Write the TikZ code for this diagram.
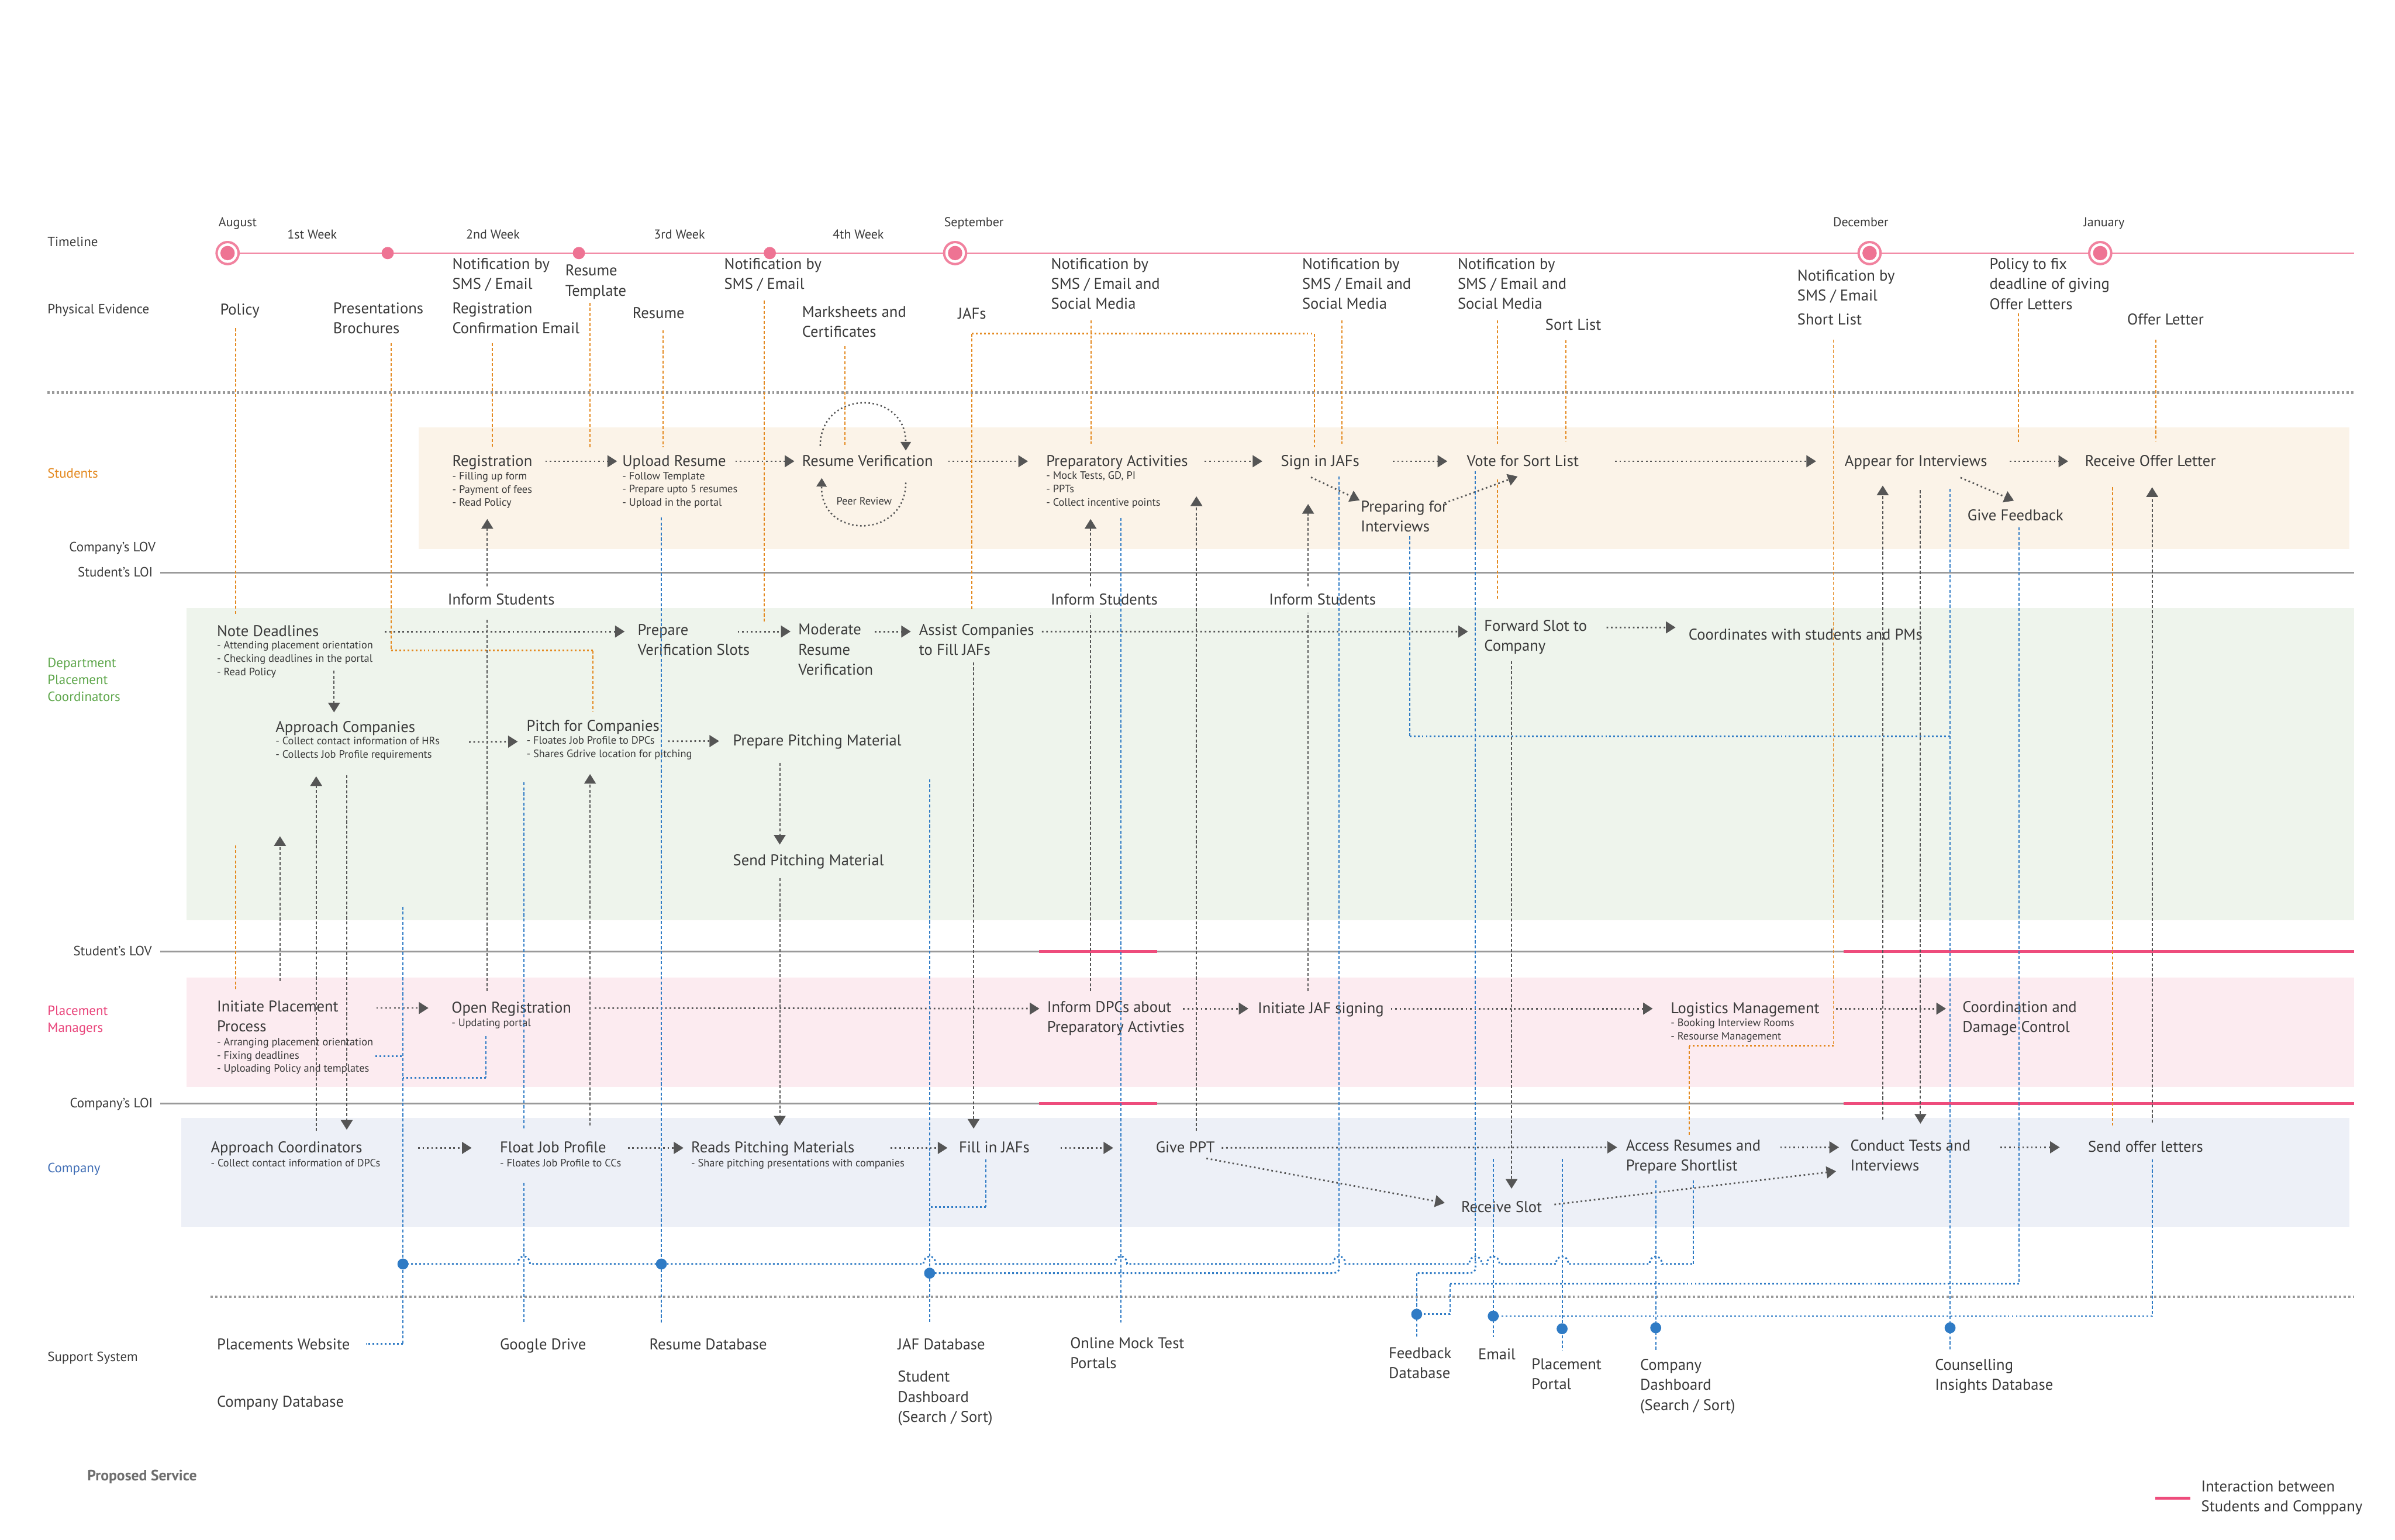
\documentclass[tikz,border=0pt]{standalone}
\usepackage{fontspec}
\setmainfont{PT Sans}
\usetikzlibrary{arrows.meta}

\definecolor{ink}{HTML}{3A3A3A}
\definecolor{arr}{HTML}{555555}
\definecolor{orn}{HTML}{E4891F}
\definecolor{blu}{HTML}{2F7BC5}
\definecolor{grn}{HTML}{5DA64A}
\definecolor{pnk}{HTML}{E9437A}
\definecolor{cmpblue}{HTML}{3F6DB5}
\definecolor{tpink}{HTML}{F1829F}
\definecolor{tdot}{HTML}{EE7393}
\definecolor{hipink}{HTML}{EE4C7C}
\definecolor{sepgray}{HTML}{9A9A9A}
\definecolor{bgstu}{HTML}{FBF3E8}
\definecolor{bgdpc}{HTML}{EEF4EC}
\definecolor{bgpm}{HTML}{FCEBF0}
\definecolor{bgcom}{HTML}{EDF0F7}
\definecolor{titlegray}{HTML}{6E6E6E}

\newcommand\mainf{\fontsize{14.5}{18.6}\selectfont}
\newcommand\subf{\fontsize{10}{12.4}\selectfont}
\newcommand\lanef{\fontsize{12.5}{15.9}\selectfont}
\newcommand\monf{\fontsize{12}{14.4}\selectfont}

\begin{document}
\begin{tikzpicture}[x=0.05cm, y=-0.05cm,
  lbl/.style={font=\mainf, text=ink, align=left, anchor=north west, inner sep=0pt, yshift=7.25pt, execute at begin node={\rule{0pt}{11.6pt}}},
  subl/.style={font=\subf, text=ink, align=left, anchor=north west, inner sep=0pt, yshift=5pt, execute at begin node={\rule{0pt}{8pt}}},
  lane/.style={font=\lanef, text=ink, align=left, anchor=north west, inner sep=0pt, yshift=6.25pt, execute at begin node={\rule{0pt}{10pt}}},
  laner/.style={lane, anchor=north east, align=right},
  mon/.style={font=\monf, text=ink, anchor=north west, inner sep=0pt, yshift=6pt, execute at begin node={\rule{0pt}{9.6pt}}},
  c1/.style={yshift=-7.25pt},
  c2/.style={yshift=-5pt},
  arrowhd/.style={-{Triangle[length=9pt,width=11pt]}},
  flow/.style={draw=arr, line width=1.5pt, dash pattern=on 1.5pt off 2.6pt, arrowhd, shorten <=9pt, shorten >=5pt},
  floop/.style={draw=arr, line width=1.4pt, dash pattern=on 1.4pt off 2.4pt, -{Triangle[length=8pt,width=9.5pt]}},
  vl/.style={draw=arr, line width=1.05pt, dash pattern=on 2.8pt off 1.9pt},
  vla/.style={vl, arrowhd},
  ol/.style={draw=orn, line width=1.05pt, dash pattern=on 2.8pt off 1.9pt},
  olh/.style={draw=orn, line width=1.6pt, dash pattern=on 1.6pt off 2.2pt},
  bl/.style={draw=blu, line width=1.05pt, dash pattern=on 2.8pt off 1.9pt},
  blh/.style={draw=blu, line width=1.6pt, dash pattern=on 1.6pt off 2.2pt},
  sepdot/.style={draw=sepgray, line width=2.4pt, dash pattern=on 2.1pt off 2.2pt},
  sepline/.style={draw=sepgray, line width=1.6pt},
  hilite/.style={draw=hipink, line width=2.6pt}]

\useasboundingbox[fill=white] (0,0) rectangle (1568,1008);

% lane backgrounds
\fill[bgstu] (274,280) rectangle (1538,359.5);
\fill[bgdpc] (122,398) rectangle (1541,602.5);
\fill[bgpm] (122,640) rectangle (1541,711.8);
\fill[bgcom] (118.5,732) rectangle (1538,803.7);

% separators and lines of interaction / visibility
\draw[sepdot] (31,257) -- (1541,257);
\draw[sepdot] (138,849) -- (1541,849);
\draw[sepline] (105,375) -- (1541,375);
\draw[sepline] (105,623) -- (1541,623);
\draw[sepline] (105,722.4) -- (1541,722.4);
\draw[hilite] (680.4,623) -- (757.6,623) (1207,623) -- (1541,623);
\draw[hilite] (680.4,722.4) -- (757.6,722.4) (1207,722.4) -- (1541,722.4);

% timeline
\draw[tpink, line width=1.4pt] (149,165.7) -- (1541,165.7);
\foreach \mx in {149,625.3,1224,1375}{
  \draw[tpink, line width=2.2pt, fill=white] (\mx,165.7) circle[radius=0.36cm];
  \fill[tdot] (\mx,165.7) circle[radius=0.235cm];
}
\foreach \mx in {253.8,379,504}
  \fill[tdot] (\mx,165.7) circle[radius=0.2cm];

% lane labels
\node[lane] (lTime) at (31,158.5) {Timeline};
\node[lane] (lPhys) at (31,202.5) {Physical Evidence};
\node[lane, text=orn] (lStu) at (31,310) {Students};
\node[laner] (lCLov) at (102,358.5) {Company’s LOV};
\node[laner] (lSLoi) at (100.2,375) {Student’s LOI};
\node[lane, text=grn] (lDpc) at (31,435) {Department\\Placement\\Coordinators};
\node[laner] (lSLov) at (99.5,623) {Student’s LOV};
\node[lane, text=pnk] (lPm) at (31,662.7) {Placement\\Managers};
\node[laner] (lCLoi) at (100.2,722.4) {Company’s LOI};
\node[lane, text=cmpblue] (lCom) at (31,764.8) {Company};
\node[lane] (lSup) at (31,888.4) {Support System};

% months and weeks
\node[mon] (mAug) at (143,145.8) {August};
\node[mon] (w1) at (188,153.6) {1st Week};
\node[mon] (w2) at (305,153.6) {2nd Week};
\node[mon] (w3) at (428,153.6) {3rd Week};
\node[mon] (w4) at (545,153.6) {4th Week};
\node[mon] (mSep) at (618,145.8) {September};
\node[mon] (mDec) at (1200,145.8) {December};
\node[mon] (mJan) at (1364,145.8) {January};

% physical evidence
\node[lbl] (pePolicy) at (144,203) {Policy};
\node[lbl] (peBroch) at (218,203) {Presentations\\Brochures};
\node[lbl] (peSms1) at (296,174) {Notification by\\SMS / Email};
\node[lbl] (peConf) at (296,203) {Registration\\Confirmation Email};
\node[lbl] (peTempl) at (370,178.4) {Resume\\Template};
\node[lbl] (peRes) at (414,205.4) {Resume};
\node[lbl] (peSms2) at (474,174) {Notification by\\SMS / Email};
\node[lbl] (peMarks) at (525,205.5) {Marksheets and\\Certificates};
\node[lbl] (peJaf) at (627,205.5) {JAFs};
\node[lbl] (peSms3) at (688,174) {Notification by\\SMS / Email and\\Social Media};
\node[lbl] (peSms4) at (852.4,174) {Notification by\\SMS / Email and\\Social Media};
\node[lbl] (peSms5) at (954.2,174) {Notification by\\SMS / Email and\\Social Media};
\node[lbl] (peSort) at (1011.6,212.9) {Sort List};
\node[lbl] (peSms6) at (1176.6,181.7) {Notification by\\SMS / Email};
\node[lbl] (peShort) at (1176.6,209.5) {Short List};
\node[lbl] (peFix) at (1302.4,174.1) {Policy to fix\\deadline of giving\\Offer Letters};
\node[lbl] (peOffer) at (1392.6,209.5) {Offer Letter};

% students
\node[lbl] (reg) at (296,302) {Registration};
\node[subl] (regs) at (296,312.4) {- Filling up form\\- Payment of fees\\- Read Policy};
\node[lbl] (upl) at (407.3,302) {Upload Resume};
\node[subl] (upls) at (407.3,312.4) {- Follow Template\\- Prepare upto 5 resumes\\- Upload in the portal};
\node[lbl] (rver) at (525,302) {Resume Verification};
\node[subl] (peer) at (547.5,328.2) {Peer Review};
\node[lbl] (prep) at (684.8,302) {Preparatory Activities};
\node[subl] (preps) at (684.8,312.2) {- Mock Tests, GD, PI\\- PPTs\\- Collect incentive points};
\node[lbl] (signjaf) at (838.4,302) {Sign in JAFs};
\node[lbl] (pfi) at (890.8,333) {Preparing for\\Interviews};
\node[lbl] (vote) at (960.2,302) {Vote for Sort List};
\node[lbl] (appear) at (1207.6,302) {Appear for Interviews};
\node[lbl] (recv) at (1364.9,302) {Receive Offer Letter};
\node[lbl] (fb) at (1288,337.6) {Give Feedback};

% department placement coordinators
\node[lbl] (inf1) at (293,392.8) {Inform Students};
\node[lbl] (inf2) at (687.8,392.8) {Inform Students};
\node[lbl] (inf3) at (830.7,392.8) {Inform Students};
\node[lbl] (notedl) at (141.9,413.5) {Note Deadlines};
\node[subl] (notes) at (141.9,423.2) {- Attending placement orientation\\- Checking deadlines in the portal\\- Read Policy};
\node[lbl] (pvs) at (417.4,413.5) {Prepare\\Verification Slots};
\node[lbl] (modres) at (522.5,413.5) {Moderate\\Resume\\Verification};
\node[lbl] (assist) at (601.6,413.5) {Assist Companies\\to Fill JAFs};
\node[lbl] (fwd) at (971.6,410.8) {Forward Slot to\\Company};
\node[lbl] (coord) at (1105.4,415.9) {Coordinates with students and PMs};
\node[lbl] (appc) at (180.3,476.3) {Approach Companies};
\node[subl] (appcs) at (180.3,486) {- Collect contact information of HRs\\- Collects Job Profile requirements};
\node[lbl] (pitch) at (344.6,475.6) {Pitch for Companies};
\node[subl] (pitchs) at (344.6,485.5) {- Floates Job Profile to DPCs\\- Shares Gdrive location for pitching};
\node[lbl] (ppm) at (479.8,485.2) {Prepare Pitching Material};
\node[lbl] (spm) at (479.8,563.7) {Send Pitching Material};

% placement managers
\node[lbl] (ipp) at (141.9,660) {Initiate Placement\\Process};
\node[subl] (ipps) at (141.9,683) {- Arranging placement orientation\\- Fixing deadlines\\- Uploading Policy and templates};
\node[lbl] (openr) at (295.5,660) {Open Registration};
\node[subl] (openrs) at (295.5,669.9) {- Updating portal};
\node[lbl] (idpc) at (685.4,660.4) {Inform DPCs about\\Preparatory Activties};
\node[lbl] (ijaf) at (823.3,660.4) {Initiate JAF signing};
\node[lbl] (logi) at (1093.7,660.4) {Logistics Management};
\node[subl] (logis) at (1093.7,670.4) {- Booking Interview Rooms\\- Resourse Management};
\node[lbl] (cdc) at (1284.7,660.4) {Coordination and\\Damage Control};

% company
\node[lbl] (appco) at (137.9,751.6) {Approach Coordinators};
\node[subl] (appcos) at (137.9,761.8) {- Collect contact information of DPCs};
\node[lbl] (floatjp) at (327.2,751.6) {Float Job Profile};
\node[subl] (floats) at (327.2,761.8) {- Floates Job Profile to CCs};
\node[lbl] (reads) at (452.4,751.6) {Reads Pitching Materials};
\node[subl] (readss) at (452.4,761.8) {- Share pitching presentations with companies};
\node[lbl] (filljaf) at (627.7,751.6) {Fill in JAFs};
\node[lbl] (ppt) at (756.6,751.6) {Give PPT};
\node[lbl] (access) at (1064.4,751.2) {Access Resumes and\\Prepare Shortlist};
\node[lbl] (cti) at (1211.3,751.2) {Conduct Tests and\\Interviews};
\node[lbl] (sol) at (1366.9,751.2) {Send offer letters};
\node[lbl] (rslot) at (956.5,790.4) {Receive Slot};

% support system
\node[lbl] (sWeb) at (141.9,880.6) {Placements Website};
\node[lbl] (sCdb) at (141.9,918) {Company Database};
\node[lbl] (sGd) at (327.2,880.6) {Google Drive};
\node[lbl] (sRdb) at (425,880.6) {Resume Database};
\node[lbl] (sJaf) at (587.6,880.6) {JAF Database};
\node[lbl] (sStud) at (587.6,902.6) {Student\\Dashboard\\(Search / Sort)};
\node[lbl] (sMock) at (700.5,880.6) {Online Mock Test\\Portals};
\node[lbl] (sFb) at (909.1,887.2) {Feedback\\Database};
\node[lbl] (sMail) at (967.6,887.2) {Email};
\node[lbl] (sPort) at (1002.6,894.3) {Placement\\Portal};
\node[lbl] (sCdash) at (1073.7,894.9) {Company\\Dashboard\\(Search / Sort)};
\node[lbl] (sCoun) at (1266.7,894.9) {Counselling\\Insights Database};

\node[font=\bfseries\fontsize{14}{16}\selectfont, text=titlegray, anchor=west, inner sep=0pt] (title) at (57,967) {Proposed Service};
\draw[hilite] (1411,980.8) -- (1434,980.8);
\node[lbl] (legend) at (1441,974.3) {Interaction between\\Students and Comppany};

% student flow
\draw[flow, shorten <=12pt, shorten >=4.7pt] ([c1]reg.north east) -- ([c1]upl.north west);
\draw[flow, shorten <=8.5pt, shorten >=7pt] ([c1]upl.north east) -- ([c1]rver.north west);
\draw[flow, shorten <=14pt, shorten >=16.8pt] ([c1]rver.north east) -- ([c1]prep.north west);
\draw[flow, shorten <=15.6pt, shorten >=17pt] ([c1]prep.north east) -- ([c1]signjaf.north west);
\draw[flow, shorten <=31pt, shorten >=18pt] ([c1]signjaf.north east) -- ([c1]vote.north west);
\draw[flow, shorten <=33.6pt, shorten >=26.5pt] ([c1]vote.north east) -- ([c1]appear.north west);
\draw[flow, shorten <=21pt, shorten >=15.5pt] ([c1]appear.north east) -- ([c1]recv.north west);
\draw[flow, shorten <=0pt, shorten >=1pt] ([shift={(-6,5)}]signjaf.south) -- (pfi.north west);
\draw[flow, shorten <=0pt, shorten >=0pt] ([shift={(-2,1.5)}]pfi.north east) -- ([shift={(-3.4,6.5)}]vote.south);
\draw[flow, shorten <=0pt, shorten >=0pt] ([shift={(-17.6,5.3)}]appear.south east) -- ([shift={(-1,-4.7)}]fb.north);
% peer review loop
\draw[floop] (537,292) .. controls (537,254.7) and (593,254.7) .. (593,295);
\draw[floop] (593,316) .. controls (593,353.3) and (537,353.3) .. (538,313);

% coordinator flow
\draw[flow, shorten <=156.6pt, shorten >=12pt] ([c1]notedl.north west) -- ([c1]pvs.north west);
\draw[flow, shorten <=93.3pt, shorten >=7pt] ([c1]pvs.north west) -- ([c1]modres.north west);
\draw[flow, shorten <=71.3pt, shorten >=7.5pt] ([c1]modres.north west) -- ([c1]assist.north west);
\draw[flow, shorten <=7pt, shorten >=15pt] ([c1]assist.north east) -- ([yshift=-11.1pt]fwd.north west);
\draw[flow, shorten <=18pt, shorten >=12pt] ([c1]fwd.north east) -- (coord.north west);
\draw[flow, shorten <=27pt, shorten >=8pt] ([c2]appcs.north east) -- ([c2]pitchs.north west);
\draw[flow, shorten <=132pt, shorten >=12.8pt] ([c2]pitchs.north west) -- ([c1]ppm.north west);

% manager flow
\draw[flow, shorten <=148.7pt, shorten >=21.3pt] ([c1]ipp.north west) -- ([c1]openr.north west);
\draw[flow, shorten <=21.8pt, shorten >=7pt] ([c1]openr.north east) -- ([c1]idpc.north west);
\draw[flow, shorten <=126.9pt, shorten >=8.5pt] ([c1]idpc.north west) -- ([c1]ijaf.north west);
\draw[flow, shorten <=6.3pt, shorten >=16.6pt] ([c1]ijaf.north east) -- ([c1]logi.north west);
\draw[flow, shorten <=15.2pt, shorten >=15.2pt] ([c1]logi.north east) -- ([c1]cdc.north west);

% company flow
\draw[flow, shorten <=193.3pt, shorten >=26.2pt] ([c1]appco.north west) -- ([c1]floatjp.north west);
\draw[flow, shorten <=20pt, shorten >=7pt] ([c1]floatjp.north east) -- ([c1]reads.north west);
\draw[flow, shorten <=33.3pt, shorten >=10.5pt] ([c1]reads.north east) -- ([c1]filljaf.north west);
\draw[flow, shorten <=28.6pt, shorten >=39.5pt] ([c1]filljaf.north east) -- ([c1]ppt.north west);
\draw[flow, shorten <=6.3pt, shorten >=8.1pt] ([c1]ppt.north east) -- ([c1]access.north west);
\draw[flow, shorten <=18pt, shorten >=10.4pt] ([c1]access.north east) -- ([c1]cti.north west);
\draw[flow, shorten <=27.5pt, shorten >=26.2pt] ([c1]cti.north east) -- ([c1]sol.north west);
\draw[flow, shorten <=0pt, shorten >=15.4pt] ([shift={(-5.6,3.4)}]ppt.south east) -- (rslot.west);
\draw[flow, shorten <=11.4pt, shorten >=13.2pt] (rslot.east) -- ([yshift=-28pt]cti.north west);

% vertical links between lanes
\draw[vl, shorten <=8.5pt, shorten >=13pt] (319,0 |- openr.north) -- (319,0 |- inf1.south);
\draw[vla, shorten <=5.5pt, shorten >=9.7pt] (319,0 |- inf1.north) -- (319,0 |- regs.south);
\draw[vl, shorten <=9pt, shorten >=7pt] (714,0 |- idpc.north) -- (714,0 |- inf2.south);
\draw[vla, shorten <=5.5pt, shorten >=10pt] (714,0 |- inf2.north) -- (714,0 |- preps.south);
\draw[vla, shorten <=8.5pt, shorten >=25pt] (783.3,0 |- ppt.north) -- (783.3,0 |- prep.south);
\draw[vl, shorten <=9pt, shorten >=7pt] (856.4,0 |- ijaf.north) -- (856.4,0 |- inf3.south);
\draw[vla, shorten <=5.5pt, shorten >=32pt] (856.4,0 |- inf3.north) -- (856.4,0 |- signjaf.south);
\draw[vla, shorten <=18.5pt, shorten >=15pt] (1232.6,0 |- cti.north) -- (1232.6,0 |- appear.south);
\draw[vla, shorten <=19.3pt, shorten >=14.8pt] (1257.3,0 |- appear.south) -- (1257.3,0 |- cti.north);
\draw[vla, shorten <=15.7pt, shorten >=19.3pt] (1409,0 |- sol.north) -- (1409,0 |- recv.south);
\draw[vla, shorten <=10.5pt, shorten >=6.8pt] (218.7,0 |- notes.center) -- (218.7,0 |- appc.north);
\draw[vla, shorten <=8.5pt, shorten >=14.8pt] (207,0 |- appco.north) -- (207,0 |- appcs.south);
\draw[vla, shorten <=13.7pt, shorten >=9.7pt] (227,0 |- appcs.south) -- (227,0 |- appco.north);
\coordinate (ippUp) at (183.3,547.5);
\draw[vla, shorten <=17.8pt] (183.3,0 |- ipp.north) -- (ippUp);
\draw[vla, shorten <=13.5pt, shorten >=13.3pt] (386.3,0 |- floatjp.north) -- (386.3,0 |- pitchs.south);
\draw[vla, shorten <=12.5pt, shorten >=8pt] (510.5,0 |- ppm.south) -- (510.5,0 |- spm.north);
\draw[vla, shorten <=8.4pt, shorten >=13.6pt] (510.5,0 |- spm.south) -- (510.5,0 |- reads.north);
\draw[vla, shorten <=6.4pt, shorten >=10.7pt] (637.4,0 |- assist.south) -- (637.4,0 |- filljaf.north);
\draw[vla, shorten <=6.4pt, shorten >=10pt] (989.6,0 |- fwd.south) -- (989.6,0 |- rslot.north);

% physical evidence links
\draw[ol, shorten <=9.2pt, shorten >=7.7pt] (154.3,0 |- pePolicy.south) -- (154.3,0 |- notedl.north);
\coordinate (ipOr) at (154.3,553);
\draw[ol, shorten <=10pt] (154.3,0 |- ipp.north) -- (ipOr);
\draw[ol, shorten <=8.5pt] (256,0 |- peBroch.south) -- (256,426);
\draw[olh] (256,426) -- (388,426);
\draw[ol, shorten >=6.4pt] (388,426) -- (388,0 |- pitch.north);
\draw[ol, shorten <=8.5pt, shorten >=6pt] (322.2,0 |- peConf.south) -- (322.2,0 |- reg.north);
\draw[ol, shorten <=3.3pt, shorten >=6pt] (386.3,0 |- peTempl.south) -- (386.3,0 |- upl.north);
\draw[ol, shorten <=10.5pt, shorten >=6pt] (434,0 |- peRes.south) -- (434,0 |- upl.north);
\draw[ol, shorten <=8.5pt, shorten >=1pt] (500.2,0 |- peSms2.south) -- (500.2,0 |- modres.north);
\draw[ol, shorten <=8pt, shorten >=6pt] (553,0 |- peMarks.south) -- (553,0 |- rver.north);
\coordinate (jafC) at ([yshift=-13.5pt]peJaf.south);
\draw[ol, shorten >=13.4pt] (jafC) -- (jafC |- assist.north);
\draw[olh] (jafC) -- (860.7,0 |- jafC);
\draw[ol, shorten >=6pt] (860.7,0 |- jafC) -- (860.7,0 |- signjaf.north);
\draw[ol, shorten <=10pt, shorten >=8.8pt] (714.2,0 |- peSms3.south) -- (714.2,0 |- prep.north);
\draw[ol, shorten <=10pt, shorten >=8.8pt] (878.4,0 |- peSms4.south) -- (878.4,0 |- signjaf.north);
\draw[ol, shorten <=10pt, shorten >=8.8pt] (980.3,0 |- peSms5.south) -- (980.3,0 |- vote.north);
\draw[ol, shorten <=12.2pt, shorten >=18.8pt] (980.3,0 |- vote.south) -- (980.3,0 |- fwd.north);
\draw[ol, shorten <=9pt, shorten >=11pt] (1025.3,0 |- peSort.south) -- (1025.3,0 |- vote.north);
\draw[ol, shorten <=13.5pt] (1200.3,0 |- peShort.south) -- (1200.3,684.8);
\draw[olh] (1200.3,684.8) -- (1106,684.8);
\draw[ol, shorten >=4.4pt] (1106,684.8) -- (1106,0 |- access.north);
\draw[ol, shorten <=3.4pt, shorten >=10.5pt] (1321.5,0 |- peFix.south) -- (1321.5,0 |- recv.north);
\draw[ol, shorten <=13.5pt, shorten >=11pt] (1411.3,0 |- peOffer.south) -- (1411.3,0 |- recv.north);
\draw[ol, shorten <=19.3pt, shorten >=13pt] (1383,0 |- recv.south) -- (1383,0 |- sol.north);

% support system links
\coordinate (webTop) at (263.8,593.6);
\draw[bl] (webTop) -- (263.8,0 |- sWeb.east);
\draw[blh, shorten >=15pt] (263.8,0 |- sWeb.east) -- (sWeb.east);
\draw[blh, shorten <=2pt] (ipps.east) -- (263.8,0 |- ipps.east);
\draw[bl, shorten <=6.5pt] (318,0 |- openrs.south) -- (318,705.6);
\draw[blh] (318,705.6) -- (263.8,705.6);
\draw[blh] (263.8,827.6) \foreach \jx in {343,608.6,733.9,876.8,966,977.6,1022.7,1084} { -- (\jx-4,827.6) .. controls (\jx-4,821) and (\jx+4,821) .. (\jx+4,827.6) } -- (1108.5,827.6);
\draw[bl, shorten <=5.7pt] (1108.5,0 |- access.south) -- (1108.5,827.6);
\draw[bl, shorten <=8.3pt, shorten >=13.5pt] (433,0 |- upls.south) -- (433,0 |- sRdb.north);
\draw[bl, shorten <=21pt, shorten >=9.2pt] (343,0 |- pitchs.south) -- (343,0 |- floatjp.north);
\draw[bl, shorten <=14.6pt, shorten >=13.5pt] (343,0 |- floats.south) -- (343,0 |- sGd.north);
\coordinate (jafTop) at (608.6,510.2);
\draw[bl, shorten >=13.5pt] (jafTop) -- (608.6,0 |- sJaf.north);
\draw[bl, shorten <=5.8pt] (645.4,0 |- filljaf.south) -- (645.4,790.2);
\draw[blh] (645.4,790.2) -- (608.6,790.2);
\draw[bl, shorten <=8.8pt, shorten >=13.5pt] (733.9,0 |- preps.south) -- (733.9,0 |- sMock.north);
\draw[bl, shorten <=6.5pt] (876.8,0 |- signjaf.south) -- (876.8,826);
\draw[blh] (876.8,826) .. controls (876.8,833.6) .. (869,833.6) -- (608.6,833.6);
\draw[bl, shorten <=3.7pt] (922.8,0 |- pfi.south) -- (922.8,482.3);
\draw[blh] (922.8,482.3) -- (1276.7,482.3);
\draw[bl, shorten <=18pt, shorten >=7pt] (1276.7,0 |- appear.south) -- (1276.7,0 |- sCoun.north);
\draw[bl, shorten <=4.3pt] (966,0 |- vote.south) -- (966,826);
\draw[blh] (966,826) .. controls (966,833.6) .. (958,833.6) -- (927.5,833.6);
\draw[bl, shorten >=10pt] (927.5,833.6) -- (927.5,0 |- sFb.north);
\draw[bl, shorten <=5.8pt] (1321.7,0 |- fb.south) -- (1321.7,840.6);
\draw[blh] (1321.7,840.6) -- (949.2,840.6);
\draw[bl] (949.2,840.6) -- (949.2,860.5);
\draw[blh] (949.2,860.5) -- (927.5,860.5);
\coordinate (mailTop) at (977.6,758.7);
\draw[bl, shorten >=9.5pt] (mailTop) -- (977.6,0 |- sMail.north);
\draw[bl, shorten <=6.4pt] (1409,0 |- sol.south) -- (1409,861.7);
\draw[blh] (1409,861.7) -- (977.6,861.7);
\coordinate (portTop) at (1022.7,758.7);
\draw[bl, shorten >=6.3pt] (portTop) -- (1022.7,0 |- sPort.north);
\draw[bl, shorten <=5.7pt, shorten >=7pt] (1084,0 |- access.south) -- (1084,0 |- sCdash.north);
\foreach \p in {(263.8,827.6),(433,827.6),(608.6,833.6),(927.5,860.5),(977.6,861.7),(1022.7,870),(1084,869.4),(1276.7,869.4)}
  \fill[blu] \p circle[radius=0.18cm];

\end{tikzpicture}
\end{document}
